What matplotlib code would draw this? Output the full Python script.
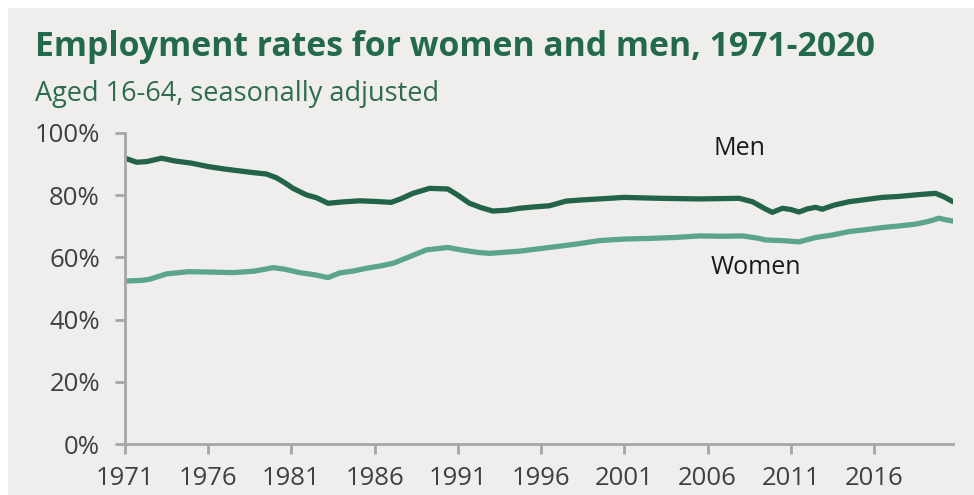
import matplotlib.pyplot as plt
from matplotlib.patches import Rectangle
import numpy as np

plt.rcParams['font.family'] = ['Open Sans', 'DejaVu Sans']

# data (year, employment rate %)
men_years = [1971.0, 1971.7, 1972.3, 1973.2, 1974.0, 1975.0, 1976.0, 1977.0, 1978.5, 1979.5,
             1980.1, 1980.6, 1981.1, 1981.9, 1982.5, 1983.2, 1984.0, 1985.1, 1986.0, 1987.0,
             1987.6, 1988.3, 1989.3, 1990.4, 1991.0, 1991.7, 1992.4, 1993.1, 1994.0, 1994.7,
             1995.5, 1996.5, 1997.5, 1998.5, 1999.5, 2001.0, 2003.1, 2005.5, 2007.9, 2008.7,
             2009.5, 2009.9, 2010.5, 2011.0, 2011.5, 2012.0, 2012.5, 2012.9, 2013.6, 2014.5,
             2015.5, 2016.5, 2017.5, 2018.5, 2019.2, 2019.7, 2020.2, 2020.75]
men_rate = [91.9, 90.6, 90.8, 91.9, 91.0, 90.3, 89.2, 88.4, 87.4, 86.8,
            85.6, 84.0, 82.2, 80.1, 79.2, 77.4, 77.8, 78.2, 78.0, 77.7,
            78.9, 80.6, 82.2, 82.0, 80.0, 77.4, 76.0, 74.9, 75.2, 75.8,
            76.2, 76.6, 78.1, 78.5, 78.8, 79.3, 79.0, 78.8, 79.0, 77.9,
            75.5, 74.5, 75.8, 75.4, 74.6, 75.6, 76.1, 75.5, 76.8, 77.9,
            78.6, 79.3, 79.6, 80.1, 80.4, 80.6, 79.5, 77.9]

women_years = [1971.0, 1972.0, 1972.5, 1973.5, 1974.8, 1976.0, 1977.5, 1978.8, 1979.9, 1980.6,
               1981.5, 1982.4, 1983.2, 1983.9, 1984.7, 1985.5, 1986.3, 1987.1, 1988.0, 1989.1,
               1990.4, 1991.2, 1992.2, 1992.9, 1994.7, 1996.5, 1998.0, 1999.5, 2001.0, 2002.5,
               2004.0, 2005.5, 2007.0, 2008.1, 2009.0, 2009.5, 2010.5, 2011.5, 2012.5, 2013.5,
               2014.5, 2015.5, 2016.5, 2017.5, 2018.5, 2019.3, 2019.9, 2020.4, 2020.75]
women_rate = [52.4, 52.6, 53.0, 54.7, 55.4, 55.3, 55.1, 55.6, 56.7, 56.2,
              55.1, 54.4, 53.5, 55.0, 55.6, 56.5, 57.2, 58.1, 60.0, 62.4,
              63.2, 62.4, 61.6, 61.3, 62.0, 63.2, 64.2, 65.4, 65.9, 66.1,
              66.4, 66.9, 66.8, 66.9, 66.2, 65.6, 65.4, 65.0, 66.4, 67.2,
              68.3, 68.9, 69.6, 70.1, 70.7, 71.6, 72.6, 72.0, 71.7]

x_ticks = [1971, 1976, 1981, 1986, 1991, 1996, 2001, 2006, 2011, 2016]
y_ticks = [0, 20, 40, 60, 80, 100]

bg = '#efeeed'
green_dark = '#23634a'
green_light = '#5ba58d'
title_green = '#236a4b'
grey = '#a6a6a6'
text_col = '#404040'

fig = plt.figure(figsize=(9.74, 4.95), dpi=100, facecolor='white')
fig.patches.append(Rectangle((8 / 974, 0), 1, (495 - 8) / 495, transform=fig.transFigure,
                             facecolor=bg, edgecolor='none', zorder=-10))

ax = fig.add_axes([125 / 974, 51 / 495, (953 - 125) / 974, (444 - 133) / 495])
ax.patch.set_alpha(0)

ax.plot(men_years, men_rate, color=green_dark, lw=3.8, solid_capstyle='round')
ax.plot(women_years, women_rate, color=green_light, lw=3.8, solid_capstyle='round')

ax.set_xlim(1971, 2020.75)
ax.set_ylim(0, 100)
ax.set_xticks(x_ticks)
ax.set_yticks(y_ticks)
ax.set_yticklabels([f'{v}%' for v in y_ticks])

for s in ['top', 'right']:
    ax.spines[s].set_visible(False)
for s in ['left', 'bottom']:
    ax.spines[s].set_color(grey)
    ax.spines[s].set_linewidth(2)
ax.tick_params(colors=grey, width=2, length=7, labelcolor=text_col, labelsize=18.5)
ax.tick_params(axis='y', pad=11)
ax.tick_params(axis='x', pad=9)

ax.text(2007.9, 94.9, 'Men', fontsize=18, color='#1a1a1a', ha='center', va='center')
ax.text(2008.9, 56.9, 'Women', fontsize=18, color='#1a1a1a', ha='center', va='center')

fig.text(35 / 974, 1 - 47 / 495, 'Employment rates for women and men, 1971-2020',
         fontsize=24.3, fontweight='bold', color=title_green, ha='left', va='center')
fig.text(35 / 974, 1 - 94 / 495, 'Aged 16-64, seasonally adjusted',
         fontsize=19.5, color='#2e6b50', ha='left', va='center')

fig.savefig('out.png', dpi=100, facecolor='white')
